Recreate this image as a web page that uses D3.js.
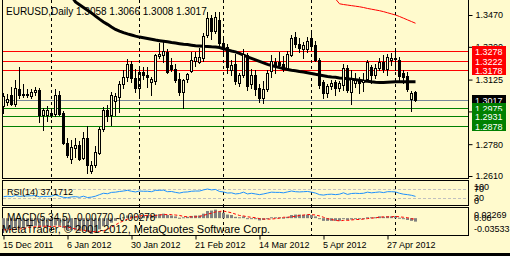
<!DOCTYPE html>
<html>
<head>
<meta charset="utf-8">
<script src="https://cdn.jsdelivr.net/npm/d3@7"></script>
<style>
  body { margin: 0; background: #fffacd; }
  svg { display: block; }
  text { font-family: "Liberation Sans", Arial, sans-serif; }
</style>
</head>
<body>
<div class="canvas"></div>
<script>
// EURUSD daily bars, 15 Dec 2011 .. 8 May 2012 (index 0 .. 103)
const opens = [
  1.2985,1.3005,1.3040,1.2995,1.3075,1.3050,1.3048,1.3035,1.3060,1.3070,
  1.2936,1.2938,1.2935,1.2940,1.3045,1.2945,1.2786,1.2700,1.2762,1.2776,
  1.2705,1.2812,1.2635,1.2669,1.2735,1.2860,1.2965,1.2935,1.3012,1.3030,
  1.3100,1.3140,1.3210,1.3135,1.3080,1.3165,1.3150,1.3110,1.3118,1.3250,
  1.3255,1.3274,1.3203,1.3182,1.3128,1.3060,1.3128,1.3170,1.3222,1.3220,
  1.3238,1.3363,1.3456,1.3385,1.3443,1.3318,1.3300,1.3176,1.3210,1.3108,
  1.3148,1.3258,1.3100,1.3150,1.3082,1.3025,1.3075,1.3170,1.3218,1.3218,
  1.3210,1.3187,1.3256,1.3354,1.3313,1.3290,1.3290,1.3349,1.3310,1.3230,
  1.3114,1.3052,1.3090,1.3110,1.3078,1.3096,1.3185,1.3060,1.3105,1.3118,
  1.3110,1.3128,1.3190,1.3150,1.3189,1.3217,1.3182,1.3230,1.3240,1.3230,
  1.3158,1.3146,1.3022,1.3058];
const highs = [
  1.3054,1.3050,1.3085,1.3123,1.3194,1.3100,1.3075,1.3075,1.3085,1.3080,
  1.2975,1.2985,1.2975,1.3075,1.3065,1.2955,1.2812,1.2800,1.2812,1.2795,
  1.2845,1.2875,1.2690,1.2770,1.2870,1.2980,1.2990,1.3060,1.3055,1.3115,
  1.3175,1.3235,1.3225,1.3180,1.3195,1.3190,1.3194,1.3140,1.3260,1.3320,
  1.3325,1.3290,1.3240,1.3210,1.3160,1.3130,1.3160,1.3275,1.3275,1.3293,
  1.3375,1.3486,1.3470,1.3485,1.3486,1.3358,1.3315,1.3230,1.3262,1.3160,
  1.3290,1.3265,1.3180,1.3175,1.3100,1.3118,1.3178,1.3256,1.3240,1.3275,
  1.3250,1.3280,1.3365,1.3381,1.3347,1.3327,1.3355,1.3375,1.3330,1.3240,
  1.3125,1.3100,1.3125,1.3123,1.3120,1.3208,1.3203,1.3176,1.3160,1.3140,
  1.3160,1.3230,1.3203,1.3206,1.3240,1.3256,1.3260,1.3265,1.3283,1.3245,
  1.3176,1.3168,1.3064,1.3066];
const lows = [
  1.2946,1.2990,1.2990,1.2985,1.3025,1.3030,1.3030,1.3025,1.3043,1.2900,
  1.2856,1.2905,1.2925,1.2930,1.2935,1.2780,1.2712,1.2680,1.2712,1.2695,
  1.2700,1.2625,1.2624,1.2660,1.2725,1.2850,1.2905,1.2880,1.2935,1.2950,
  1.3080,1.3120,1.3110,1.3060,1.3025,1.3130,1.3087,1.3045,1.3100,1.3240,
  1.3220,1.3160,1.3170,1.3110,1.3043,1.2972,1.3110,1.3165,1.3195,1.3215,
  1.3225,1.3350,1.3340,1.3375,1.3300,1.3265,1.3160,1.3150,1.3100,1.3090,
  1.3140,1.3070,1.3080,1.3043,1.3005,1.3000,1.3065,1.3140,1.3160,1.3195,
  1.3170,1.3180,1.3250,1.3300,1.3274,1.3242,1.3274,1.3292,1.3225,1.3080,
  1.3027,1.3032,1.3075,1.3043,1.3065,1.3069,1.3060,1.2995,1.3083,1.3052,
  1.3064,1.3115,1.3105,1.3135,1.3175,1.3167,1.3150,1.3203,1.3176,1.3123,
  1.3105,1.3065,1.2955,1.3008];
const closes = [
  1.3035,1.3021,1.2995,1.3080,1.3043,1.3040,1.3042,1.3060,1.3070,1.2936,
  1.2963,1.2960,1.2945,1.3043,1.2940,1.2786,1.2722,1.2767,1.2776,1.2702,
  1.2815,1.2670,1.2669,1.2740,1.2860,1.2965,1.2930,1.3040,1.3035,1.3100,
  1.3140,1.3210,1.3135,1.3080,1.3165,1.3150,1.3140,1.3128,1.3256,1.3262,
  1.3277,1.3164,1.3182,1.3123,1.3059,1.3122,1.3155,1.3230,1.3245,1.3248,
  1.3359,1.3452,1.3385,1.3461,1.3319,1.3286,1.3190,1.3203,1.3115,1.3148,
  1.3260,1.3090,1.3148,1.3075,1.3025,1.3075,1.3160,1.3224,1.3205,1.3204,
  1.3182,1.3262,1.3349,1.3313,1.3296,1.3310,1.3331,1.3306,1.3230,1.3096,
  1.3052,1.3092,1.3105,1.3078,1.3105,1.3187,1.3069,1.3128,1.3123,1.3105,
  1.3125,1.3217,1.3148,1.3185,1.3221,1.3182,1.3248,1.3242,1.3233,1.3146,
  1.3140,1.3075,1.3052,1.3017];

// moving averages (first value belongs to bar maBlackStart / maRedStart)
const maBlackStart = 16;
const maBlack = [
  1.3600,1.3570,1.3540,1.3525,
  1.3510,1.3495,1.3481,1.3464,1.3448,1.3433,1.3420,1.3406,1.3393,1.3384,
  1.3376,1.3369,1.3363,1.3357,1.3352,1.3348,1.3344,1.3340,1.3336,1.3333,
  1.3330,1.3327,1.3323,1.3320,1.3317,1.3314,1.3312,1.3309,1.3306,1.3305,
  1.3303,1.3302,1.3300,1.3299,1.3296,1.3290,1.3284,1.3278,1.3273,1.3265,
  1.3256,1.3246,1.3238,1.3230,1.3222,1.3214,1.3206,1.3200,1.3194,1.3189,
  1.3184,1.3179,1.3175,1.3172,1.3168,1.3165,1.3161,1.3157,1.3153,1.3150,
  1.3146,1.3142,1.3139,1.3137,1.3134,1.3132,1.3129,1.3127,1.3124,1.3121,
  1.3118,1.3116,1.3113,1.3111,1.3110,1.3110,1.3111,1.3112,1.3113,1.3114,
  1.3114,1.3114,1.3114,1.3114];
const maRedStart = 83;
const maRed = [
  1.3556,1.3530,1.3526,1.3523,1.3520,1.3517,1.3514,
  1.3510,1.3505,1.3501,1.3497,1.3493,1.3488,1.3482,1.3476,1.3470,1.3462,
  1.3453,1.3444,1.3435,1.3426];

// RSI(14)
const rsi = [
  36,38,36,41,37,39,39,40,41,35, 37,37,38,44,38,33,31,35,36,33,
  38,32,34,38,45,51,49,55,56,59, 61,64,60,57,61,60,60,58,64,64,
  65,58,59,55,52,56,57,60,61,61, 66,70,66,68,59,57,52,53,48,50,
  56,48,51,48,45,48,52,56,55,55, 53,57,61,58,57,58,59,56,52,45,
  43,46,47,45,47,53,46,50,51,50, 51,56,53,55,57,54,58,58,57,51,
  47,45,42,37.1712];

// MACD(5,34,5): histogram and signal
const macd = [
  -0.024,-0.024,-0.024,-0.022,-0.021,-0.020,-0.019,-0.018,-0.017,-0.019,
  -0.019,-0.019,-0.019,-0.016,-0.017,-0.022,-0.026,-0.027,-0.027,-0.029,
  -0.027,-0.031,-0.0353,-0.031,-0.025,-0.018,-0.016,-0.010,-0.006,-0.002,
  0.002,0.006,0.006,0.004,0.006,0.006,0.006,0.005,0.008,0.009,
  0.010,0.007,0.006,0.004,0.001,0.002,0.003,0.005,0.006,0.006,
  0.010,0.016,0.017,0.019,0.015,0.012,0.008,0.007,0.003,0.002,
  0.004,0.000,0.000,-0.002,-0.005,-0.004,-0.001,0.002,0.002,0.002,
  0.001,0.003,0.007,0.008,0.008,0.007,0.008,0.007,0.004,-0.002,
  -0.006,-0.006,-0.006,-0.006,-0.006,-0.002,-0.004,-0.003,-0.002,-0.002,
  -0.001,0.002,0.002,0.002,0.004,0.003,0.004,0.004,0.004,0.001,
  -0.001,-0.004,-0.006,-0.0077];
const signal = [
  -0.026,-0.026,-0.025,-0.025,-0.024,-0.023,-0.021,-0.020,-0.019,-0.018,
  -0.018,-0.018,-0.019,-0.018,-0.018,-0.019,-0.020,-0.022,-0.024,-0.026,
  -0.027,-0.028,-0.030,-0.030,-0.030,-0.028,-0.025,-0.020,-0.015,-0.010,
  -0.006,-0.002,0.001,0.003,0.005,0.006,0.006,0.005,0.006,0.007,
  0.008,0.008,0.008,0.007,0.006,0.004,0.003,0.003,0.003,0.004,
  0.006,0.009,0.011,0.014,0.015,0.016,0.014,0.012,0.009,0.006,
  0.005,0.003,0.002,0.001,-0.001,-0.002,-0.002,-0.002,-0.001,0.000,
  0.002,0.002,0.003,0.004,0.006,0.007,0.008,0.008,0.007,0.005,
  0.002,-0.001,-0.003,-0.005,-0.006,-0.005,-0.005,-0.004,-0.003,-0.003,
  -0.002,-0.001,0.000,0.001,0.002,0.003,0.003,0.003,0.004,0.003,
  0.002,0.001,-0.001,-0.00278];

// levels and labels
const resistance = [1.3278, 1.3222, 1.3178];
const support = [1.2975, 1.2931, 1.2878];
const bid = 1.3017;
const priceTicks = [1.3470, 1.3300, 1.3125, 1.2955, 1.2780, 1.2610];
const rsiLabels = ['100', '70', '30', '0'];
const macdLabels = ['0.02269', '0.00', '-0.03533'];
const dateIdx = [0, 16, 32, 48, 64, 80, 96];
const dateLabels = ['15 Dec 2011', '6 Jan 2012', '30 Jan 2012', '21 Feb 2012', '14 Mar 2012', '5 Apr 2012', '27 Apr 2012'];
const monthStarts = [12, 34, 55, 77, 98];

const bg = '#fffacd';
const svg = d3.select('.canvas')
              .append('svg')
              .attr('width', 510)
              .attr('height', 256);

svg.append('rect').attr('width', 510).attr('height', 256).attr('fill', bg);
svg.append('rect').attr('x', 0).attr('y', 253).attr('width', 510).attr('height', 3).attr('fill', '#000');

// scales
const x = d3.scaleLinear().domain([0, 103]).range([3.5, 415.5]);
const y = d3.scaleLinear().domain([1.2610, 1.3470]).range([176, 15]);
const yRsi = d3.scaleLinear().domain([0, 100]).range([204.75, 182.25]);
const yMacd = d3.scaleLinear().domain([-0.03533, 0.02269]).range([234, 208]);
const crisp = v => Math.round(v) + 0.5;

svg.append('clipPath').attr('id', 'mainClip')
   .append('rect').attr('x', 3).attr('y', 0).attr('width', 465).attr('height', 178);

const main = svg.append('g').attr('clip-path', 'url(#mainClip)');

// month separators across all panels
svg.selectAll('.sep')
   .data(monthStarts)
   .enter().append('line')
   .attr('x1', d => x(d)).attr('x2', d => x(d))
   .attr('y1', 0).attr('y2', 235)
   .attr('stroke', '#000')
   .attr('stroke-dasharray', '3,3');

// horizontal levels
const levelLine = (v, color) => main.append('line')
      .attr('x1', 3).attr('x2', 468)
      .attr('y1', crisp(y(v))).attr('y2', crisp(y(v)))
      .attr('stroke', color);
resistance.forEach(v => levelLine(v, '#ff0000'));
support.forEach(v => levelLine(v, '#008000'));
levelLine(bid, '#778899');

// moving averages
const lineBlack = d3.line().x((d, i) => x(i + maBlackStart)).y(d => y(d));
const lineRed = d3.line().x((d, i) => x(i + maRedStart)).y(d => y(d));
main.append('path').attr('d', lineBlack(maBlack))
    .attr('fill', 'none').attr('stroke', '#000').attr('stroke-width', 3);
main.append('path').attr('d', lineRed(maRed))
    .attr('fill', 'none').attr('stroke', '#ff0000').attr('stroke-width', 1);

// candles
const bars = d3.range(opens.length);
const candles = main.selectAll('.candle')
                    .data(bars)
                    .enter().append('g');

candles.append('line')
       .attr('x1', i => x(i)).attr('x2', i => x(i))
       .attr('y1', i => Math.round(y(highs[i]))).attr('y2', i => Math.round(y(lows[i])) + 1)
       .attr('stroke', '#000');

candles.each(function(i) {
  const g = d3.select(this);
  const top = Math.round(y(Math.max(opens[i], closes[i])));
  const bot = Math.round(y(Math.min(opens[i], closes[i])));
  if (closes[i] >= opens[i]) {
    g.append('rect')
     .attr('x', x(i) - 1).attr('y', top + 0.5)
     .attr('width', 2).attr('height', Math.max(1, bot - top))
     .attr('fill', bg).attr('stroke', '#000');
  } else {
    g.append('rect')
     .attr('x', x(i) - 1.5).attr('y', top)
     .attr('width', 3).attr('height', Math.max(1, bot - top + 1))
     .attr('fill', '#000');
  }
});

// title
svg.append('text').attr('x', 6).attr('y', 15)
   .attr('font-size', 10).attr('fill', '#000')
   .text(`EURUSD,Daily  ${opens[103].toFixed(4)} ${highs[103].toFixed(4)} ${lows[103].toFixed(4)} ${closes[103].toFixed(4)}`);

// right price axis
const yAxis = d3.axisRight(y)
                .tickValues(priceTicks)
                .tickSize(4)
                .tickFormat(d3.format('.4f'));
const yAxisGroup = svg.append('g').attr('transform', 'translate(468.5, 0)').call(yAxis);
yAxisGroup.select('.domain').remove();
yAxisGroup.selectAll('text').attr('font-size', 9).attr('font-family', '"Liberation Sans", Arial, sans-serif').attr('fill', '#000');

// level tags
const tag = (v, color) => {
  const cy = y(v);
  svg.append('rect').attr('x', 472).attr('y', Math.round(cy) - 5)
     .attr('width', 34).attr('height', 10).attr('fill', color);
  svg.append('text').attr('x', 475).attr('y', Math.round(cy) + 3.5)
     .attr('font-size', 9).attr('fill', '#fff').text(v.toFixed(4));
};
resistance.forEach(v => tag(v, '#ff0000'));
tag(bid, '#000');
support.forEach(v => tag(v, '#008000'));

// panel frames
const frame = (y0, y1) => svg.append('rect')
      .attr('x', 2.5).attr('y', y0 + 0.5)
      .attr('width', 466).attr('height', y1 - y0)
      .attr('fill', 'none').attr('stroke', '#000');
frame(-2, 178);
frame(180, 205);
frame(207, 235);

// RSI panel
svg.selectAll('.rsiLevel')
   .data([70, 30])
   .enter().append('line')
   .attr('x1', 3).attr('x2', 468)
   .attr('y1', d => crisp(yRsi(d))).attr('y2', d => crisp(yRsi(d)))
   .attr('stroke', '#c0c0c0').attr('stroke-dasharray', '3,2');

const rsiLine = d3.line().x((d, i) => x(i)).y(d => yRsi(d));
svg.append('path').attr('d', rsiLine(rsi))
   .attr('fill', 'none').attr('stroke', '#1e90ff');

svg.append('text').attr('x', 7).attr('y', 194.5).attr('font-size', 9)
   .text(`RSI(14) ${rsi[103].toFixed(4)}`);

svg.selectAll('.rsiLab')
   .data(rsiLabels)
   .enter().append('text')
   .attr('x', 474)
   .attr('y', (d, i) => [189.7, 191.9, 201.1, 203.7][i])
   .attr('font-size', 9)
   .text(d => d);

// MACD panel
svg.selectAll('.hist')
   .data(macd)
   .enter().append('rect')
   .attr('x', (d, i) => x(i) - 1.5)
   .attr('y', d => Math.min(yMacd(d), yMacd(0)))
   .attr('width', 3)
   .attr('height', d => Math.max(1, Math.abs(yMacd(d) - yMacd(0))))
   .attr('fill', '#808080');

const sigLine = d3.line().x((d, i) => x(i)).y(d => yMacd(d));
svg.append('path').attr('d', sigLine(signal))
   .attr('fill', 'none').attr('stroke', '#ff0000').attr('stroke-dasharray', '3,2');

svg.append('text').attr('x', 7).attr('y', 221).attr('font-size', 10)
   .text(`MACD(5,34,5) ${macd[103].toFixed(5)} ${signal[103].toFixed(5)}`);

svg.selectAll('.macdLab')
   .data(macdLabels)
   .enter().append('text')
   .attr('x', 474)
   .attr('y', (d, i) => [217.5, 221.1, 232][i])
   .attr('font-size', 9)
   .text(d => d);

svg.append('text').attr('x', 2).attr('y', 233).attr('font-size', 11)
   .text('MetaTrader, © 2001-2012, MetaQuotes Software Corp.');

// date axis
const xAxis = d3.axisBottom(x)
                .tickValues(dateIdx)
                .tickSize(4)
                .tickFormat((d, i) => dateLabels[i]);
const xAxisGroup = svg.append('g').attr('transform', 'translate(0, 235.5)').call(xAxis);
xAxisGroup.select('.domain').remove();
xAxisGroup.selectAll('text')
          .attr('text-anchor', 'start')
          .attr('x', -1)
          .attr('dy', 0)
          .attr('y', 12.5)
          .attr('font-size', 9)
          .attr('font-family', '"Liberation Sans", Arial, sans-serif')
          .attr('fill', '#000');
</script>
</body>
</html>
